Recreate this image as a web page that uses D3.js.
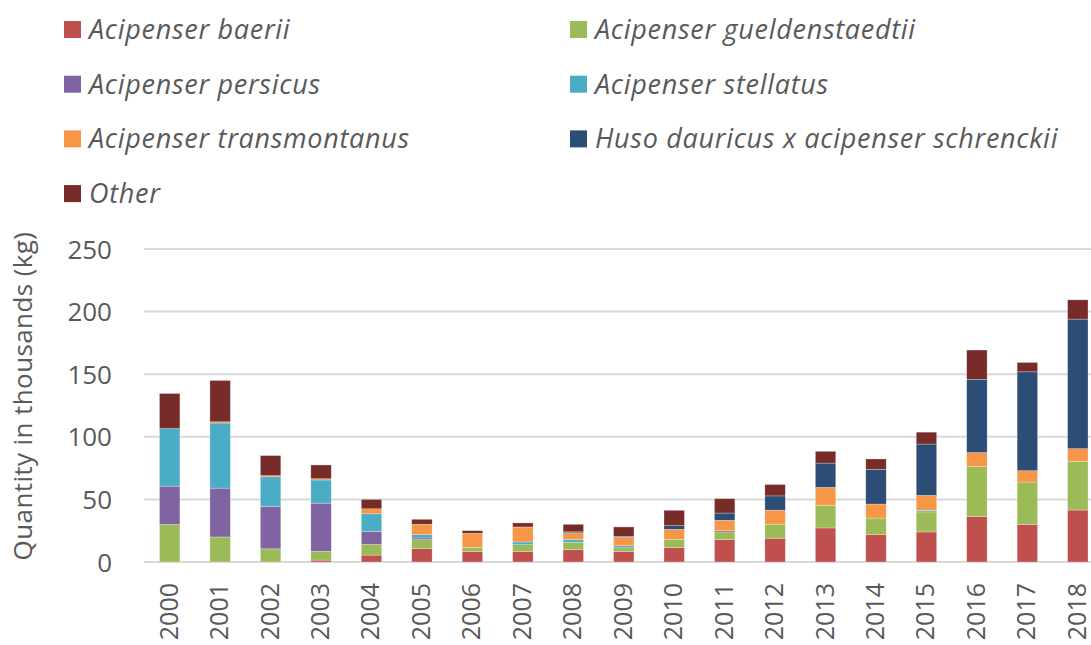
<!DOCTYPE html>
<html lang="en">
<head>
<meta charset="utf-8">
<title>sturgeon</title>
<script src="https://cdn.jsdelivr.net/npm/d3@7"></script>
<style>
  body { margin: 0; background: #fff; font-family: "Open Sans", sans-serif; }
  .axis text { fill: #595959; font-family: "Open Sans", sans-serif; }
  .legend text { fill: #595959; font-style: italic; letter-spacing: 0.7px; }
</style>
</head>
<body>
<script>
var years = ["2000","2001","2002","2003","2004","2005","2006","2007","2008","2009",
             "2010","2011","2012","2013","2014","2015","2016","2017","2018"];

// values in thousands of kg
var baerii      = [0, 0, 0, 1.5, 5.5, 10.6, 8.5, 8.5, 9.8, 8.5, 11.7, 17.8, 19, 27.2, 21.8, 24, 36.2, 30.1, 41.5];
var gueld       = [30, 20, 10.5, 7, 8.5, 7.2, 3.2, 5.3, 6, 2.9, 6.4, 6.2, 11.2, 18.1, 13.3, 16, 40, 33.8, 39];
var persicus    = [30.6, 39, 34, 38.5, 10.5, 1.4, 0, 0, 0, 0, 0, 1, 0, 0, 0, 0, 0, 0, 0];
var stellatus   = [46, 52, 23.5, 18.5, 14, 2.6, 0, 2.2, 2.1, 1.6, 0, 0, 0, 0, 0, 1.2, 0, 0, 0];
var transmont   = [0, 1, 1, 1, 4, 8.3, 11.2, 12, 5.4, 6.7, 8, 8.3, 11.2, 14.3, 11.2, 12, 11.2, 9, 10];
var huso        = [0, 0, 0, 0, 0, 0, 0, 0, 0.8, 0.8, 2.9, 5.8, 11.4, 19.4, 27.7, 41, 58.5, 79, 103.5];
var other       = [28, 33, 16, 11, 7.5, 4, 2.1, 3.2, 6, 7.5, 12.3, 11.5, 9.1, 9.4, 8.3, 9.5, 23.4, 7.5, 15.4];

var seriesNames = ["Acipenser baerii", "Acipenser gueldenstaedtii", "Acipenser persicus",
                   "Acipenser stellatus", "Acipenser transmontanus",
                   "Huso dauricus x acipenser schrenckii", "Other"];
var seriesValues = [baerii, gueld, persicus, stellatus, transmont, huso, other];
var colors = ["#C0504D", "#9BBB59", "#8064A2", "#4BACC6", "#F79646", "#2C4D75", "#772C2A"];
var yTicks = [0, 50, 100, 150, 200, 250];

var w = 1091, h = 645;

// build table for d3.stack
var table = years.map(function(y, i) {
  var row = { year: y };
  seriesNames.forEach(function(n, k) { row[n] = seriesValues[k][i]; });
  return row;
});
var stacked = d3.stack().keys(seriesNames)(table);

var svg = d3.select("body").append("svg")
  .attr("width", w)
  .attr("height", h);

var xScale = d3.scaleBand()
  .domain(years)
  .range([144.5, 1103])
  .paddingInner(0.595)
  .paddingOuter(0.297);

var yScale = d3.scaleLinear()
  .domain([0, 250])
  .range([562, 249]);

// gridlines
svg.append("g")
  .selectAll("line")
  .data(yTicks)
  .enter()
  .append("line")
  .attr("x1", 144)
  .attr("x2", w)
  .attr("y1", function(d) { return yScale(d); })
  .attr("y2", function(d) { return yScale(d); })
  .attr("stroke", "#D9D9D9")
  .attr("stroke-width", 2);

// bars
var layer = svg.append("g")
  .selectAll("g")
  .data(stacked)
  .enter()
  .append("g")
  .attr("fill", function(d, i) { return colors[i]; });

layer.selectAll("rect")
  .data(function(d) { return d; })
  .enter()
  .append("rect")
  .attr("x", function(d) { return xScale(d.data.year); })
  .attr("width", xScale.bandwidth())
  .attr("y", function(d) { return yScale(d[1]); })
  .attr("height", function(d) { return yScale(d[0]) - yScale(d[1]); })
  .attr("stroke", "rgba(255,255,255,0.45)")
  .attr("stroke-width", 0.6);

// y axis
var yAxis = svg.append("g")
  .attr("class", "axis")
  .attr("transform", "translate(122,0)")
  .call(d3.axisLeft(yScale).tickValues(yTicks).tickSize(0).tickPadding(10));
yAxis.select(".domain").remove();
yAxis.selectAll("text").style("font-size", "26px").attr("dy", "0.35em");

// x axis
var xAxis = svg.append("g")
  .attr("class", "axis")
  .attr("transform", "translate(0,562)")
  .call(d3.axisBottom(xScale).tickSize(0));
xAxis.select(".domain").remove();
xAxis.selectAll("text")
  .style("font-size", "25px")
  .attr("text-anchor", "end")
  .attr("transform", "rotate(-90)")
  .attr("x", -21)
  .attr("y", -1)
  .attr("dy", "0.36em");

// y axis title
svg.append("text")
  .attr("transform", "translate(32,396) rotate(-90)")
  .attr("text-anchor", "middle")
  .attr("fill", "#595959")
  .style("font-size", "26px")
  .style("letter-spacing", "0.4px")
  .text("Quantity in thousands (kg)");

// legend
var legend = svg.append("g").attr("class", "legend")
  .selectAll("g")
  .data(seriesNames)
  .enter()
  .append("g")
  .attr("transform", function(d, i) {
    var col = i % 2, row = Math.floor(i / 2);
    return "translate(" + (col ? 570 : 64) + "," + (21 + row * 54.7) + ")";
  });

legend.append("rect")
  .attr("width", 17)
  .attr("height", 17)
  .attr("fill", function(d, i) { return colors[i]; });

legend.append("text")
  .attr("x", 25)
  .attr("y", 8.5)
  .attr("dy", "0.35em")
  .style("font-size", "27px")
  .text(function(d) { return d; });
</script>
</body>
</html>
